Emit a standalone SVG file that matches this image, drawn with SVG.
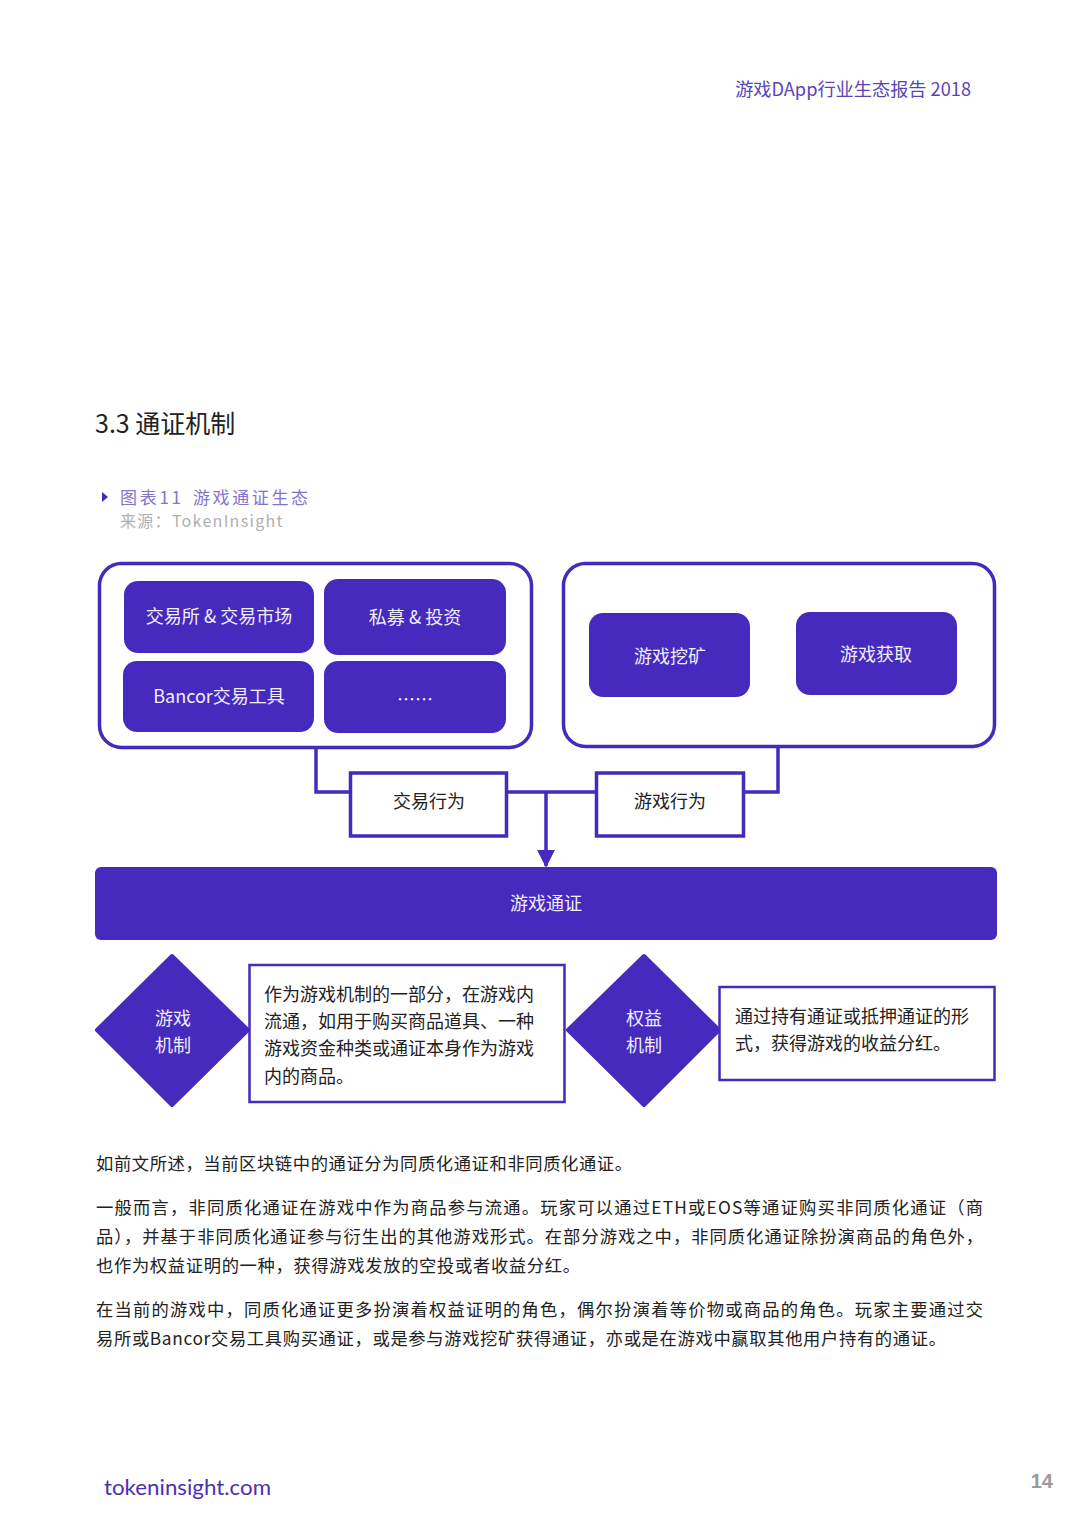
<svg xmlns="http://www.w3.org/2000/svg" width="1080" height="1529" viewBox="0 0 1080 1529">
<defs>
<style>
.cjk{font-family:"Noto Sans CJK SC","Noto Sans",sans-serif}
.fill{fill:#4629bd}
.lbl{fill:#f1eeff;font-size:18px;text-anchor:middle}
.dark{fill:#222;font-size:18px}
.body{fill:#222;font-size:17.3px}
.cont{fill:#fff;stroke:#4629bd;stroke-width:3.5}
.tbox{fill:#fff;stroke:#4629bd;stroke-width:2.5}
.wire{fill:none;stroke:#4629bd;stroke-width:3.5}
</style>
<marker id="ah" viewBox="0 0 10 10" refX="9" refY="5" markerWidth="5.2" markerHeight="5.2" markerUnits="strokeWidth" orient="auto">
<path d="M0,0 L10,5 L0,10 z" fill="#4629bd"/>
</marker>
</defs>
<rect width="1080" height="1529" fill="#fff"/>

<text x="971" y="96" class="cjk" font-size="18.2" fill="#5a44b8" text-anchor="end">游戏DApp行业生态报告 2018</text>
<text x="95" y="433" class="cjk" font-size="25" fill="#222">3.3 通证机制</text>
<path d="M102,492 L108,497 L102,502 z" fill="#4629bd"/>
<text x="120" y="504" class="cjk" font-size="17" fill="#8474cc" textLength="61" lengthAdjust="spacing">图表11</text>
<text x="193" y="504" class="cjk" font-size="17" fill="#8474cc" textLength="115" lengthAdjust="spacing">游戏通证生态</text>
<text x="120" y="527" class="cjk" font-size="16" fill="#b0b0b0" letter-spacing="1.3">来源：TokenInsight</text>

<g id="connectors">
<path class="wire" d="M316,748 V792 H350"/>
<path class="wire" d="M507,792 H596"/>
<path class="wire" d="M744,792 H778 V747"/>
<path class="wire" d="M546,792 V866" marker-end="url(#ah)"/>
</g>

<g id="left-group">
<rect class="cont" x="99.5" y="563.5" width="432" height="184" rx="22"/>
</g>
<g id="n-exchange"><rect class="fill" x="124" y="581" width="190" height="72" rx="14"/><text class="cjk lbl" x="219" y="623">交易所 &amp; 交易市场</text></g>
<g id="n-private"><rect class="fill" x="324" y="579" width="182" height="76" rx="14"/><text class="cjk lbl" x="415" y="624">私募 &amp; 投资</text></g>
<g id="n-bancor"><rect class="fill" x="123" y="661" width="191" height="71" rx="14"/><text class="cjk lbl" x="219" y="703">Bancor交易工具</text></g>
<g id="n-etc"><rect class="fill" x="324" y="661" width="182" height="72" rx="14"/><text class="cjk lbl" x="415" y="706">……</text></g>

<g id="right-group">
<rect class="cont" x="563.5" y="563.5" width="431" height="183" rx="22"/>
</g>
<g id="n-mining"><rect class="fill" x="589" y="613" width="161" height="84" rx="14"/><text class="cjk lbl" x="670" y="663">游戏挖矿</text></g>
<g id="n-acquire"><rect class="fill" x="796" y="612" width="161" height="83" rx="14"/><text class="cjk lbl" x="876" y="661">游戏获取</text></g>

<g id="n-trade-act"><rect class="cont" x="350.5" y="773" width="156" height="63" stroke-width="3"/><text class="cjk dark" x="429" y="808" text-anchor="middle">交易行为</text></g>
<g id="n-game-act"><rect class="cont" x="596.5" y="773" width="147" height="63" stroke-width="3"/><text class="cjk dark" x="670" y="808" text-anchor="middle">游戏行为</text></g>

<g id="n-token"><rect class="fill" x="95" y="867" width="902" height="73" rx="6"/><text class="cjk lbl" x="546" y="910">游戏通证</text></g>

<g id="n-mech1">
<path class="fill" d="M172,956 L248,1030 L172,1105 L97,1030 z" stroke="#4629bd" stroke-width="4" stroke-linejoin="round"/>
<text class="cjk lbl" x="173" y="1025">游戏</text>
<text class="cjk lbl" x="173" y="1052">机制</text>
</g>
<g id="n-desc1">
<rect class="tbox" x="249.5" y="965" width="315" height="137"/>
<text class="cjk dark" x="264" y="1001">作为游戏机制的一部分，在游戏内</text>
<text class="cjk dark" x="264" y="1028">流通，如用于购买商品道具、一种</text>
<text class="cjk dark" x="264" y="1055">游戏资金种类或通证本身作为游戏</text>
<text class="cjk dark" x="264" y="1083">内的商品。</text>
</g>
<g id="n-mech2">
<path class="fill" d="M644,956 L719,1030 L644,1105 L568,1030 z" stroke="#4629bd" stroke-width="4" stroke-linejoin="round"/>
<text class="cjk lbl" x="644" y="1025">权益</text>
<text class="cjk lbl" x="644" y="1052">机制</text>
</g>
<g id="n-desc2">
<rect class="tbox" x="719.5" y="987" width="275" height="93"/>
<text class="cjk dark" x="735" y="1023">通过持有通证或抵押通证的形</text>
<text class="cjk dark" x="735" y="1050">式，获得游戏的收益分红。</text>
</g>

<g id="body">
<text class="cjk body" x="96" y="1170" textLength="536" lengthAdjust="spacing">如前文所述，当前区块链中的通证分为同质化通证和非同质化通证。</text>
<text class="cjk body" x="96" y="1214" textLength="887" lengthAdjust="spacing">一般而言，非同质化通证在游戏中作为商品参与流通。玩家可以通过ETH或EOS等通证购买非同质化通证（商</text>
<text class="cjk body" x="96" y="1243" textLength="887" lengthAdjust="spacing">品），并基于非同质化通证参与衍生出的其他游戏形式。在部分游戏之中，非同质化通证除扮演商品的角色外，</text>
<text class="cjk body" x="96" y="1272" textLength="484" lengthAdjust="spacing">也作为权益证明的一种，获得游戏发放的空投或者收益分红。</text>
<text class="cjk body" x="96" y="1316" textLength="887" lengthAdjust="spacing">在当前的游戏中，同质化通证更多扮演着权益证明的角色，偶尔扮演着等价物或商品的角色。玩家主要通过交</text>
<text class="cjk body" x="96" y="1345" textLength="850" lengthAdjust="spacing">易所或Bancor交易工具购买通证，或是参与游戏挖矿获得通证，亦或是在游戏中赢取其他用户持有的通证。</text>
</g>

<text x="104" y="1495" font-family="Lato,'Open Sans',sans-serif" font-size="21" fill="#4b2fb5" textLength="167" lengthAdjust="spacingAndGlyphs">tokeninsight.com</text>
<text x="1053" y="1488" font-family="'Liberation Sans',Arial,sans-serif" font-size="20" font-weight="bold" fill="#9a9a9a" text-anchor="end">14</text>
</svg>
